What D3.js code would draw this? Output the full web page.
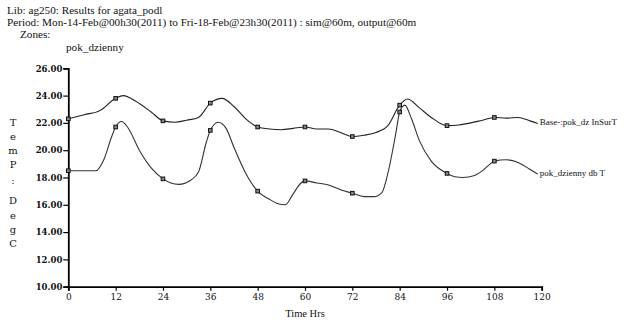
<!DOCTYPE html>
<html>
<head>
<meta charset="utf-8">
<script src="https://cdn.jsdelivr.net/npm/d3@7"></script>
<style>
  html, body { margin: 0; padding: 0; background: #fff; }
  svg { display: block; }
  text { fill: #111; }
</style>
</head>
<body>
<svg id="chart" width="624" height="324"></svg>
<script>
// Hourly temperature traces for zone pok_dzienny (hours from start, deg C)
const hours = [0, 4, 8, 12, 14, 17, 21, 24, 27, 30, 33, 36, 39, 42, 45, 48, 51, 54, 57, 60,
  63, 66, 69, 72, 75, 78, 81, 84, 86, 89, 92, 96, 99, 102, 105, 108, 111, 114, 117, 119];
const surfTemp = [22.3, 22.6, 22.9, 23.8, 24.0, 23.6, 22.8, 22.15, 22.05, 22.2, 22.4, 23.45, 23.8, 23.2, 22.3, 21.7, 21.55, 21.5, 21.6, 21.7,
  21.55, 21.55, 21.3, 21.0, 21.1, 21.3, 21.8, 23.3, 23.75, 23.1, 22.4, 21.8, 21.85, 22.0, 22.2, 22.4, 22.35, 22.4, 22.15, 21.95];

const hoursDb = [0, 4, 7, 9, 11, 12, 13.5, 15, 18, 21, 24, 26, 28, 31, 33, 35, 36, 38, 40, 42, 45, 48, 51, 53, 55, 57, 59, 60,
  63, 66, 69, 72, 75, 77.5, 79.5, 81, 83, 84, 85.3, 87, 89, 92, 96, 98, 100, 103, 105, 107, 108, 111, 114, 117, 119];
const dbTemp = [18.5, 18.5, 18.5, 19.3, 21.0, 21.7, 22.1, 21.7, 20.0, 18.7, 17.9, 17.6, 17.5, 17.8, 18.4, 20.6, 21.45, 22.05, 21.6, 20.2, 18.3, 17.0, 16.4, 16.1, 16.0, 16.8, 17.6, 17.75,
  17.6, 17.45, 17.1, 16.85, 16.6, 16.6, 16.9, 18.3, 21.2, 22.8, 23.3, 22.3, 20.7, 19.2, 18.3, 18.05, 18.0, 18.15, 18.5, 19.0, 19.2, 19.3, 19.1, 18.6, 18.25];

const seriesNames = ["Base-:pok_dz InSurT", "pok_dzienny db T"];
const xTicks = [0, 12, 24, 36, 48, 60, 72, 84, 96, 108, 120];
const yTicks = [10, 12, 14, 16, 18, 20, 22, 24, 26];
const headerLines = [
  "Lib: ag250: Results for agata_podl",
  "Period: Mon-14-Feb@00h30(2011) to Fri-18-Feb@23h30(2011) : sim@60m, output@60m"
];
const yLabelChars = ["T", "e", "m", "P", ":", "D", "e", "g", "C"];

const svg = d3.select("#chart");
const serif = "'Liberation Serif', 'DejaVu Serif', serif";
const tickFont = "'DejaVu Serif', serif";

const x = d3.scaleLinear().domain([0, 120]).range([68.3, 541.7]);
const y = d3.scaleLinear().domain([10, 26]).range([286.7, 68.3]);

// Header block
const hdr = 11.2;
svg.append("text").attr("x", 7).attr("y", 14).attr("font-family", serif).attr("font-size", hdr).text(headerLines[0]);
svg.append("text").attr("x", 7).attr("y", 26).attr("font-family", serif).attr("font-size", hdr).text(headerLines[1]);
svg.append("text").attr("x", 20).attr("y", 38).attr("font-family", serif).attr("font-size", hdr).text("Zones:");
svg.append("text").attr("x", 66).attr("y", 51).attr("font-family", serif).attr("font-size", hdr).text("pok_dzienny");

// Axes
const yAxis = d3.axisLeft(y).tickValues(yTicks).tickFormat(d3.format(".2f")).tickSize(5).tickPadding(1);
const gy = svg.append("g").attr("transform", `translate(${x(0)},0)`).call(yAxis);
gy.select(".domain").attr("stroke", "#000").attr("stroke-width", 1.8);
gy.selectAll(".tick line").attr("stroke", "#000").attr("stroke-width", 1.2);
gy.selectAll(".tick text").attr("font-family", tickFont).attr("font-size", 8.5).attr("font-weight", "bold").attr("fill", "#222");

const xAxis = d3.axisBottom(x).tickValues(xTicks).tickSize(4).tickPadding(3);
const gx = svg.append("g").attr("transform", `translate(0,${y(10)})`).call(xAxis);
gx.select(".domain").attr("stroke", "#000").attr("stroke-width", 1.8);
gx.selectAll(".tick line").attr("stroke", "#000").attr("stroke-width", 1.2);
gx.selectAll(".tick text").attr("font-family", tickFont).attr("font-size", 9).attr("fill", "#222");

svg.append("text").attr("x", x(60)).attr("y", 317).attr("text-anchor", "middle")
  .attr("font-family", serif).attr("font-size", 10.5).text("Time Hrs");

// Stacked vertical axis title
const yLabelY = [122, 136, 150, 164, 180, 200, 215, 229, 243];
svg.append("g").selectAll("text").data(yLabelChars).join("text")
  .attr("x", 13).attr("y", (d, i) => yLabelY[i] + 4)
  .attr("text-anchor", "middle").attr("font-family", tickFont).attr("font-size", 10)
  .text(d => d);

// Series lines with markers every 12 hours
const line = d3.line().x(d => x(d[0])).y(d => y(d[1])).curve(d3.curveMonotoneX);
const series = [
  { name: seriesNames[0], pts: hours.map((h, i) => [h, surfTemp[i]]), colour: "#222" },
  { name: seriesNames[1], pts: hoursDb.map((h, i) => [h, dbTemp[i]]), colour: "#333" }
];

series.forEach(s => {
  svg.append("path").datum(s.pts).attr("d", line)
    .attr("fill", "none").attr("stroke", s.colour).attr("stroke-width", 1.1);
  const marks = s.pts.filter(p => p[0] % 12 === 0 && p[0] <= 108);
  svg.append("g").selectAll("rect").data(marks).join("rect")
    .attr("x", d => x(d[0]) - 1.8).attr("y", d => y(d[1]) - 1.8)
    .attr("width", 3.6).attr("height", 3.6)
    .attr("fill", "#888").attr("stroke", "#111").attr("stroke-width", 1);
  const last = s.pts[s.pts.length - 1];
  svg.append("text").attr("x", x(last[0]) + 2).attr("y", y(last[1]) + 1.5)
    .attr("font-family", serif).attr("font-size", 9).text(s.name);
});
</script>
</body>
</html>
